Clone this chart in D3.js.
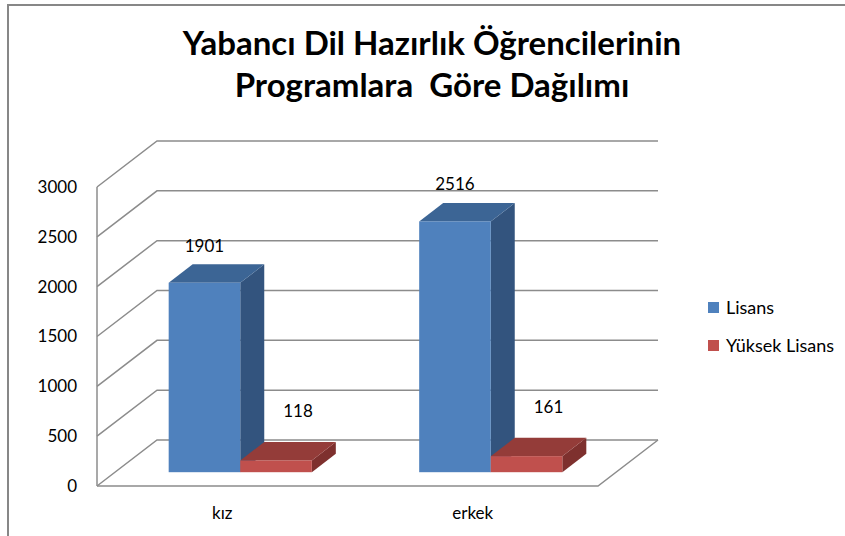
<!DOCTYPE html>
<html>
<head>
<meta charset="utf-8">
<script src="https://cdn.jsdelivr.net/npm/d3@7"></script>
<style>
  body { margin: 0; background: #fff; }
  text { font-family: Lato, "Open Sans", sans-serif; }
</style>
</head>
<body>
<div id="chart"></div>
<script>
// Data
let categories = ["kız", "erkek"];
let series = ["Lisans", "Yüksek Lisans"];
let values = [
    [1901, 118],   // kız
    [2516, 161]    // erkek
];
let yTicks = [0, 500, 1000, 1500, 2000, 2500, 3000];
let titleLines = ["Yabancı Dil Hazırlık Öğrencilerinin", "Programlara  Göre Dağılımı"];

let width = 845, height = 536;

let svg = d3.select("#chart")
    .append("svg")
    .attr("width", width)
    .attr("height", height);

// Outer chart border (only top and left edges visible)
svg.append("rect")
    .attr("x", 8).attr("y", 5)
    .attr("width", 900).attr("height", 600)
    .attr("fill", "none")
    .attr("stroke", "#878787")
    .attr("stroke-width", 2);

// Title
svg.append("text")
    .attr("text-anchor", "middle")
    .attr("font-size", "33px")
    .attr("font-weight", "bold")
    .attr("fill", "#000")
    .style("white-space", "pre")
    .selectAll("tspan")
    .data(titleLines)
    .enter()
    .append("tspan")
    .attr("x", 432)
    .attr("y", (d, i) => 55 + i * 42)
    .text(d => d);

/* 3D frame: front plane x range, depth offset */
let x0 = 97, x1 = 598;
let depth = { dx: 60, dy: -46 };

let yScale = d3.scaleLinear()
    .domain([0, 3000])
    .range([486, 187]);

let xBand = d3.scaleBand()
    .domain(categories)
    .range([x0, x1])
    .padding(0);

let xInner = d3.scaleBand()
    .domain(series)
    .range([0, xBand.bandwidth()])
    .paddingInner(0)
    .paddingOuter(0.75);

let grid = svg.append("g")
    .attr("fill", "none")
    .attr("stroke", "#8c8c8c")
    .attr("stroke-width", 1.5);

// side wall diagonals + back wall gridlines
yTicks.forEach(t => {
    let y = yScale(t);
    grid.append("path")
        .attr("d", `M${x0},${y} L${x0 + depth.dx},${y + depth.dy} L${x1 + depth.dx},${y + depth.dy}`);
});

// front axis vertical
grid.append("line")
    .attr("x1", x0).attr("x2", x0)
    .attr("y1", yScale(3000)).attr("y2", yScale(0));

// floor front and right edge
grid.append("path")
    .attr("d", `M${x0},${yScale(0)} L${x1},${yScale(0)} L${x1 + depth.dx},${yScale(0) + depth.dy}`);

// Y tick labels
svg.append("g")
    .selectAll("text")
    .data(yTicks)
    .enter()
    .append("text")
    .attr("x", 77)
    .attr("y", d => yScale(d))
    .attr("dy", "0.35em")
    .attr("text-anchor", "end")
    .attr("font-size", "17px")
    .attr("fill", "#000")
    .text(d => d);

// Category labels
svg.append("g")
    .selectAll("text")
    .data(categories)
    .enter()
    .append("text")
    .attr("x", d => xBand(d) + xBand.bandwidth() / 2)
    .attr("y", 519)
    .attr("text-anchor", "middle")
    .attr("font-size", "17px")
    .attr("fill", "#000")
    .text(d => d);

/* Bars */
let colors = {
    "Lisans": { front: "#4f81bd", top: "#3c6595", side: "#33547e" },
    "Yüksek Lisans": { front: "#c0504d", top: "#943c39", side: "#7e302e" }
};
// bar sits between these depth fractions
let dNear = 0.30, dFar = 0.70;
let labelOffset = {
    "Lisans": { dx: 0, dy: -31 },
    "Yüksek Lisans": { dx: 22, dy: -43 }
};

let bars = [];
categories.forEach((c, i) => {
    series.forEach((s, j) => {
        bars.push({ cat: c, ser: s, value: values[i][j] });
    });
});

let barG = svg.append("g");

bars.forEach(b => {
    let fx = dNear * depth.dx, fy = dNear * depth.dy;
    let bx = dFar * depth.dx, by = dFar * depth.dy;
    let left = xBand(b.cat) + xInner(b.ser) + fx;
    let right = left + xInner.bandwidth();
    let top = yScale(b.value) + fy;
    let bottom = yScale(0) + fy;
    let ddx = bx - fx, ddy = by - fy;
    let col = colors[b.ser];

    // side
    barG.append("path")
        .attr("d", `M${right},${top} L${right + ddx},${top + ddy} L${right + ddx},${bottom + ddy} L${right},${bottom} Z`)
        .attr("fill", col.side);
    // top
    barG.append("path")
        .attr("d", `M${left},${top} L${left + ddx},${top + ddy} L${right + ddx},${top + ddy} L${right},${top} Z`)
        .attr("fill", col.top);
    // front
    barG.append("rect")
        .attr("x", left)
        .attr("y", top)
        .attr("width", right - left)
        .attr("height", bottom - top)
        .attr("fill", col.front);

    // value label
    svg.append("text")
        .attr("x", (left + right) / 2 + labelOffset[b.ser].dx)
        .attr("y", top + labelOffset[b.ser].dy)
        .attr("text-anchor", "middle")
        .attr("font-size", "17px")
        .attr("fill", "#000")
        .text(b.value);
});

/* Legend */
let legend = svg.append("g")
    .selectAll("g")
    .data(series)
    .enter()
    .append("g")
    .attr("transform", (d, i) => `translate(708, ${302 + i * 38})`);

legend.append("rect")
    .attr("width", 11)
    .attr("height", 11)
    .attr("fill", d => colors[d].front);

legend.append("text")
    .attr("x", 18)
    .attr("y", 12)
    .attr("font-size", "18px")
    .attr("fill", "#000")
    .text(d => d);
</script>
</body>
</html>
